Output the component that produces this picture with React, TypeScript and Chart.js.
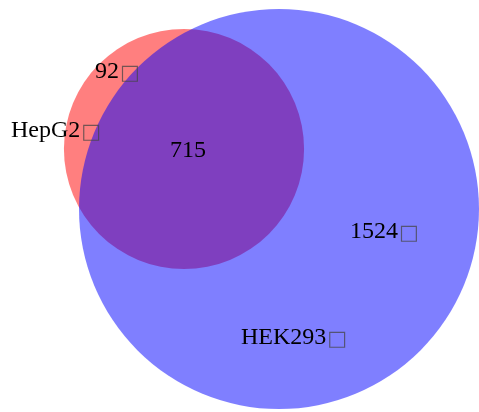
import React, { useEffect, useRef } from "react";
import { Chart, registerables } from "chart.js";

Chart.register(...registerables);

// Venn sets
const setNames = ["HepG2", "HEK293"];
const onlyCounts = [92, 1524]; // unique to each set
const sharedCount = 715; // intersection
// circle centres in layout units (canvas pixels)
const centerX = [184, 279];
const centerY = [149, 209];
const fillColors = ["rgba(255,0,0,0.5)", "rgba(0,0,255,0.5)"];

// label anchors (left edge x, baseline y)
const nameLabelX = [11, 241];
const nameLabelY = [137, 344];
const countLabelX = [95, 350];
const countLabelY = [78, 238];
const sharedLabelX = 170;
const sharedLabelY = 157;
const boxChar = "\u25A1";

const W = 479;
const H = 412;
const pxPerSqrtItem = 200 / Math.sqrt(1524 + 715);

export default function App() {
  const ref = useRef<HTMLCanvasElement | null>(null);
  useEffect(() => {
    document.body.style.margin = "0";
    const canvas = ref.current!;
    const totals = onlyCounts.map((c) => c + sharedCount);

    const labelPlugin = {
      id: "vennLabels",
      afterDatasetsDraw(chart: any) {
        const c = chart.ctx as CanvasRenderingContext2D;
        const xs = chart.scales.x;
        const ys = chart.scales.y;
        const drawLabel = (text: string, x: number, y: number, box: boolean) => {
          const px = xs.getPixelForValue(x);
          const py = ys.getPixelForValue(y);
          c.save();
          c.font = '24px "Liberation Serif", "Times New Roman", serif';
          c.fillStyle = "#000";
          c.textAlign = "left";
          c.textBaseline = "alphabetic";
          c.fillText(text, px, py);
          if (box) {
            const w = c.measureText(text).width;
            c.font = '21px "DejaVu Sans"';
            c.fillStyle = "rgba(70,70,70,0.75)";
            c.fillText(boxChar, px + w + 1, py + 1);
          }
          c.restore();
        };
        onlyCounts.forEach((v, i) => drawLabel(String(v), countLabelX[i], countLabelY[i], true));
        setNames.forEach((n, i) => drawLabel(n, nameLabelX[i], nameLabelY[i], true));
        drawLabel(String(sharedCount), sharedLabelX, sharedLabelY, false);
      },
    };

    const chart = new Chart(canvas, {
      type: "bubble",
      data: {
        datasets: setNames.map((name, i) => ({
          label: name,
          data: [{ x: centerX[i], y: centerY[i], r: Math.sqrt(totals[i]) * pxPerSqrtItem }],
          backgroundColor: fillColors[i],
          borderWidth: 0,
          hoverBorderWidth: 0,
          order: setNames.length - 1 - i,
          clip: false as any,
        })),
      },
      options: {
        animation: false,
        responsive: false,
        events: [],
        layout: { padding: 0, autoPadding: false } as any,
        plugins: { legend: { display: false }, tooltip: { enabled: false } },
        scales: {
          x: { type: "linear", min: 0, max: W, display: false },
          y: { type: "linear", min: 0, max: H, reverse: true, display: false },
        },
      },
      plugins: [labelPlugin],
    });
    return () => chart.destroy();
  }, []);
  return <canvas ref={ref} width={W} height={H} style={{ display: "block" }} />;
}
